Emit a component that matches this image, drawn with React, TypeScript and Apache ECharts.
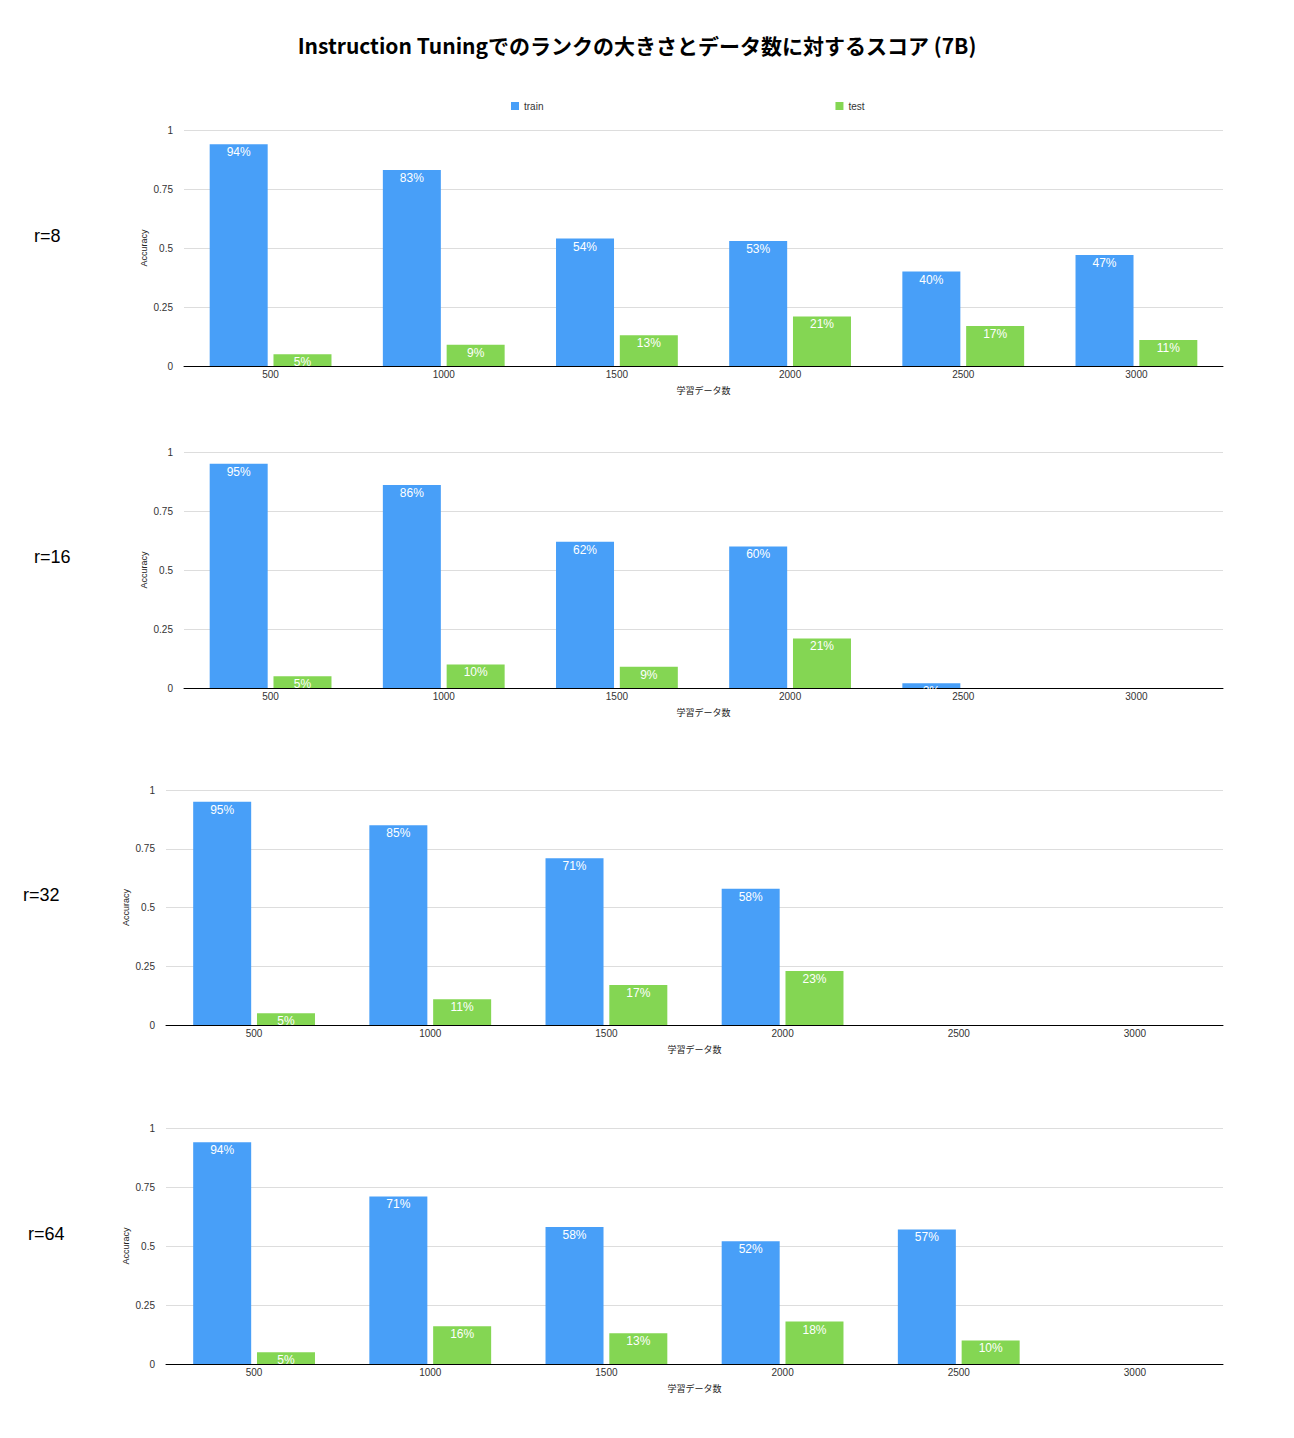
import React, { useEffect, useRef } from "react";
import * as echarts from "echarts";

const categories = ["500", "1000", "1500", "2000", "2500", "3000"];
const rankLabels = ["r=8", "r=16", "r=32", "r=64"];
const trainR8 = [0.94, 0.83, 0.54, 0.53, 0.4, 0.47];
const testR8 = [0.05, 0.09, 0.13, 0.21, 0.17, 0.11];
const trainR16 = [0.95, 0.86, 0.62, 0.6, 0.02, null];
const testR16 = [0.05, 0.1, 0.09, 0.21, null, null];
const trainR32 = [0.95, 0.85, 0.71, 0.58, null, null];
const testR32 = [0.05, 0.11, 0.17, 0.23, null, null];
const trainR64 = [0.94, 0.71, 0.58, 0.52, 0.57, null];
const testR64 = [0.05, 0.16, 0.13, 0.18, 0.1, null];
const yTicks = [0, 0.25, 0.5, 0.75, 1];

const trainSets = [trainR8, trainR16, trainR32, trainR64];
const testSets = [testR8, testR16, testR32, testR64];

const BLUE = "#489ff8";
const GREEN = "#84d653";
const FONT = "'Liberation Sans', 'Noto Sans CJK JP', sans-serif";

const grids = [
  { left: 184, top: 130, height: 236, labelX: 34, labelY: 237 },
  { left: 184, top: 452, height: 236, labelX: 34, labelY: 558 },
  { left: 166, top: 790, height: 235, labelX: 23, labelY: 896 },
  { left: 166, top: 1128, height: 236, labelX: 28, labelY: 1235 },
];

export default function App() {
  const ref = useRef<HTMLDivElement>(null);
  useEffect(() => {
    if (!ref.current) return;
    const chart = echarts.init(ref.current, null, { renderer: "svg" });
    const labelCfg = {
      show: true,
      position: "insideTop",
      distance: 2,
      color: "#fff",
      fontSize: 12,
      fontFamily: FONT,
      formatter: (p: any) => Math.round(p.value * 100) + "%",
    };
    const series: any[] = [];
    grids.forEach((g, i) => {
      series.push({
        name: "train",
        type: "bar",
        xAxisIndex: i,
        yAxisIndex: i,
        data: trainSets[i],
        barWidth: 58,
        barGap: "10%",
        itemStyle: { color: BLUE },
        label: labelCfg,
      });
      series.push({
        name: "test",
        type: "bar",
        xAxisIndex: i,
        yAxisIndex: i,
        data: testSets[i],
        barWidth: 58,
        barGap: "10%",
        itemStyle: { color: GREEN },
        label: labelCfg,
      });
    });
    const option: any = {
      animation: false,
      backgroundColor: "#fff",
      title: {
        text: "Instruction Tuningでのランクの大きさとデータ数に対するスコア (7B)",
        left: 632,
        top: 29,
        textAlign: "center",
        textStyle: {
          fontSize: 21,
          fontWeight: "bold",
          color: "#000",
          fontFamily: "'Noto Sans CJK JP', sans-serif",
        },
      },
      legend: {
        left: 506,
        top: 96,
        itemWidth: 8,
        itemHeight: 8,
        itemGap: 292,
        icon: "rect",
        data: ["train", "test"],
        textStyle: { fontSize: 10, color: "#333", fontFamily: FONT },
      },
      grid: grids.map((g) => ({
        left: g.left,
        right: 71,
        top: g.top,
        height: g.height,
      })),
      xAxis: grids.map((g, i) => ({
        type: "category",
        gridIndex: i,
        data: categories,
        name: "学習データ数",
        nameLocation: "middle",
        nameGap: 20,
        nameMoveOverlap: false,
        nameTextStyle: { fontSize: 9, color: "#222", fontFamily: "'Noto Sans CJK JP', sans-serif" },
        axisLine: { lineStyle: { color: "#000", width: 1 } },
        axisTick: { show: false },
        axisLabel: { fontSize: 10, color: "#333", margin: 3, fontFamily: FONT },
      })),
      yAxis: grids.map((g, i) => ({
        type: "value",
        gridIndex: i,
        min: 0,
        max: 1,
        interval: 0.25,
        name: "Accuracy",
        nameLocation: "middle",
        nameGap: 36,
        nameMoveOverlap: false,
        nameTextStyle: { fontSize: 9, color: "#222", fontFamily: FONT },
        axisLine: { show: false },
        axisTick: { show: false },
        splitLine: { lineStyle: { color: "#dddddd" } },
        axisLabel: {
          fontSize: 10,
          color: "#333",
          margin: 11,
          fontFamily: FONT,
          formatter: (v: number) => (yTicks.includes(v) ? String(v) : ""),
        },
      })),
      graphic: grids.map((g, i) => ({
        type: "text",
        left: g.labelX,
        top: g.labelY - 10,
        style: {
          text: rankLabels[i],
          fontSize: 18,
          fill: "#000",
          fontFamily: FONT,
        },
      })),
      series,
    };
    chart.setOption(option);
    return () => chart.dispose();
  }, []);
  return (
    <div
      ref={ref}
      style={{ position: "absolute", left: 0, top: 0, width: 1294, height: 1438 }}
    />
  );
}
